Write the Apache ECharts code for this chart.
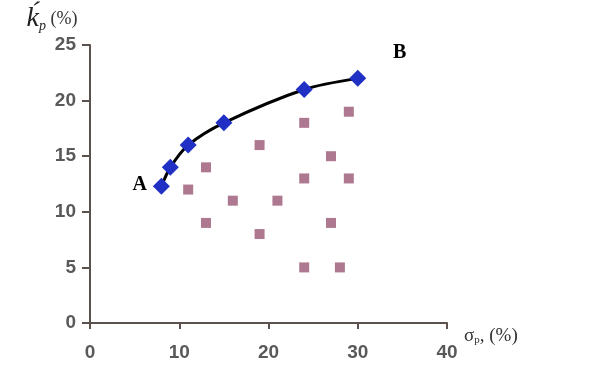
<!DOCTYPE html>
<html><head><meta charset="utf-8">
<script src="https://cdn.jsdelivr.net/npm/echarts@6/dist/echarts.min.js"></script>
<style>html,body{margin:0;padding:0;background:#fff}#c{width:607px;height:382px}</style>
</head><body><div id="c"></div>
<script>
const frontierX = [8, 9, 11, 15, 24, 30];
const frontierY = [12.3, 14, 16, 18, 21, 22];
const frontierLabels = ['A', '', '', '', '', 'B'];
const portX = [11, 13, 13, 16, 19, 19, 21, 24, 24, 24, 27, 27, 28, 29, 29];
const portY = [12, 14, 9, 11, 16, 8, 11, 18, 13, 5, 15, 9, 5, 19, 13];
const xTicks = [0, 10, 20, 30, 40];
const yTicks = [0, 5, 10, 15, 20, 25];

const chart = echarts.init(document.getElementById('c'));
const axisCol = '#5b524d';
const labCol = '#595959';
const frontier = frontierX.map((x, i) => {
  const d = {value: [x, frontierY[i]]};
  if (frontierLabels[i] === 'A') d.label = {show: true, formatter: 'A', position: 'left', distance: 8, offset: [2, -1]};
  if (frontierLabels[i] === 'B') d.label = {show: true, formatter: 'B', position: 'top', offset: [42, -2]};
  return d;
});
chart.setOption({
  animation: false,
  grid: {left: 90, right: 160, top: 45, bottom: 59},
  xAxis: {
    type: 'value', min: xTicks[0], max: xTicks[xTicks.length - 1], interval: 10,
    splitLine: {show: false},
    axisLine: {lineStyle: {color: axisCol, width: 2}},
    axisTick: {show: true, length: 6, lineStyle: {color: axisCol, width: 2}},
    axisLabel: {color: labCol, fontFamily: 'Liberation Sans', fontWeight: 'bold', fontSize: 19, margin: 20},
    name: '{s|σ}{sub|p}{n|, (%)}', nameLocation: 'end', nameGap: 17,
    nameTextStyle: {
      verticalAlign: 'top', padding: [4, 0, 0, 0],
      rich: {
        s: {fontFamily: 'Liberation Serif', fontSize: 19, color: '#333'},
        sub: {fontFamily: 'Liberation Serif', fontSize: 11, color: '#333', verticalAlign: 'bottom', padding: [7, 0, 0, 0]},
        n: {fontFamily: 'Liberation Serif', fontSize: 19, color: '#333'}
      }
    }
  },
  yAxis: {
    type: 'value', min: yTicks[0], max: yTicks[yTicks.length - 1], interval: 5,
    splitLine: {show: false},
    axisLine: {show: true, lineStyle: {color: axisCol, width: 2}},
    axisTick: {show: true, length: 8, lineStyle: {color: axisCol, width: 2}},
    axisLabel: {color: labCol, fontFamily: 'Liberation Sans', fontWeight: 'bold', fontSize: 19, margin: 14},
    name: '{k|k\u0301}{sub|p}{n| (%)}', nameLocation: 'end', nameGap: 12,
    nameTextStyle: {
      align: 'center', padding: [0, 0, 0, -76],
      rich: {
        k: {fontFamily: 'Liberation Serif', fontStyle: 'italic', fontSize: 28, color: '#222'},
        sub: {fontFamily: 'Liberation Serif', fontStyle: 'italic', fontSize: 14, color: '#222', verticalAlign: 'bottom', padding: [10, 0, 0, 0]},
        n: {fontFamily: 'Liberation Serif', fontSize: 18, color: '#333'}
      }
    }
  },
  series: [
    {
      type: 'line', data: frontier, smooth: 0.3,
      symbol: 'diamond', symbolSize: 17,
      lineStyle: {color: '#000', width: 3},
      itemStyle: {color: '#2130c4'},
      label: {show: false, fontFamily: 'Liberation Serif', fontWeight: 'bold', fontSize: 20, color: '#000'},
      z: 3
    },
    {
      type: 'scatter', data: portX.map((x, i) => [x, portY[i]]),
      symbol: 'rect', symbolSize: 10,
      itemStyle: {color: '#9a5774'},
      z: 2
    }
  ]
});
</script></body></html>
